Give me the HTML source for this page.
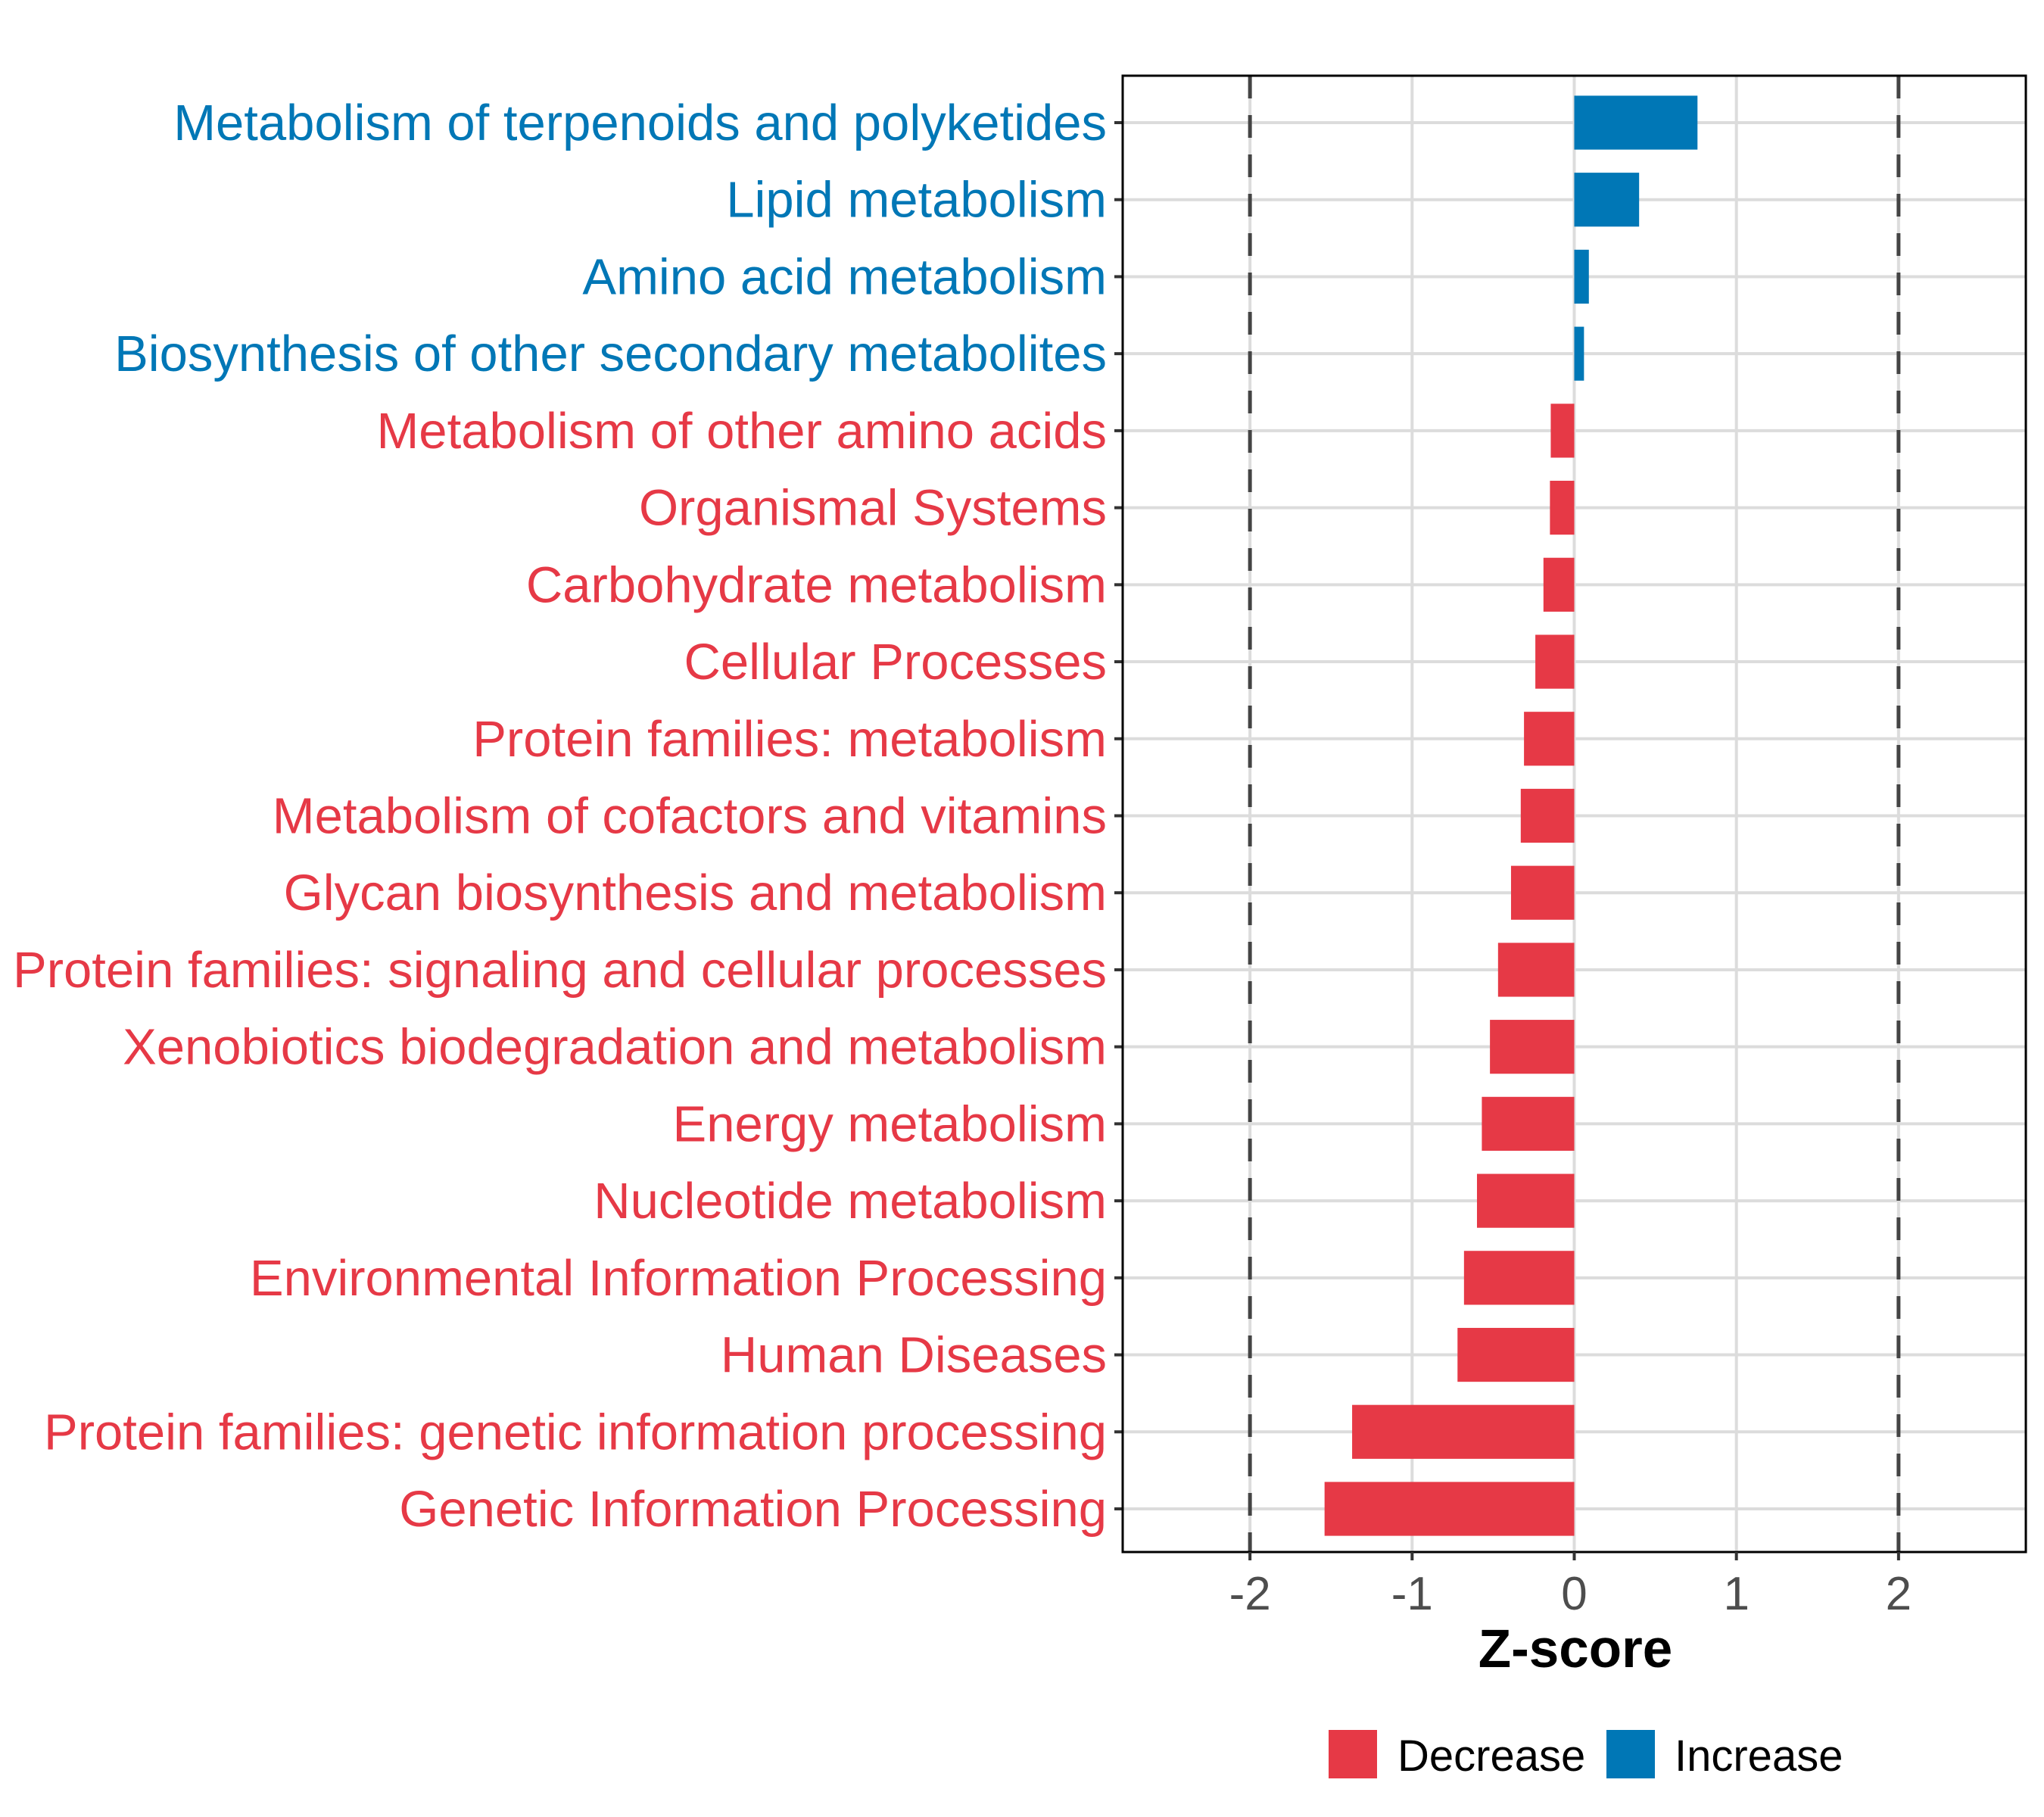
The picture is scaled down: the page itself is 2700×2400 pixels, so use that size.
<!DOCTYPE html>
<html><head><meta charset="utf-8"><style>
html,body{margin:0;padding:0;background:#fff;}
svg{display:block;font-family:"Liberation Sans",Arial,sans-serif;}
</style></head><body>
<svg id="chart" width="2700" height="2400" viewBox="0 0 2700 2400">
<g id="grid"></g>
<g id="bars"></g>
<g id="labels"></g>
<g id="xaxis"></g>
<text x="2081" y="2202" text-anchor="middle" font-size="71" font-weight="bold" fill="#000">Z-score</text>
<g>
<g>
<rect x="1755" y="2285" width="64" height="64" fill="#E63946"></rect>
<text x="1846" y="2339" font-size="58" fill="#000">Decrease</text>
</g>
<g>
<rect x="2122" y="2285" width="64" height="64" fill="#0077B6"></rect>
<text x="2212" y="2339" font-size="58" fill="#000">Increase</text>
</g>
</g>
</svg>
<script>
const categories = ["Metabolism of terpenoids and polyketides","Lipid metabolism","Amino acid metabolism","Biosynthesis of other secondary metabolites","Metabolism of other amino acids","Organismal Systems","Carbohydrate metabolism","Cellular Processes","Protein families: metabolism","Metabolism of cofactors and vitamins","Glycan biosynthesis and metabolism","Protein families: signaling and cellular processes","Xenobiotics biodegradation and metabolism","Energy metabolism","Nucleotide metabolism","Environmental Information Processing","Human Diseases","Protein families: genetic information processing","Genetic Information Processing"];
const zscores = [0.76,0.40,0.09,0.06,-0.145,-0.15,-0.19,-0.24,-0.31,-0.33,-0.39,-0.47,-0.52,-0.57,-0.60,-0.68,-0.72,-1.37,-1.54];
const xTicks = [-2,-1,0,1,2];
const xTickLabels = ["-2","-1","0","1","2"];
const thresholds = [-2,2];

const NS="http://www.w3.org/2000/svg";
const L=1483,R=2676,T=100,B=2050;
const xmin=-2.785,xmax=2.785;
const x=v=>L+(v-xmin)/(xmax-xmin)*(R-L);
const rowTop=162,rowStep=(1993-162)/(categories.length-1);
const y=i=>rowTop+i*rowStep;
const barH=rowStep*0.7;
function mk(tag,attrs,parent){const e=document.createElementNS(NS,tag);for(const k in attrs)e.setAttribute(k,attrs[k]);parent.appendChild(e);return e;}
const grid=document.getElementById('grid'),bars=document.getElementById('bars'),labels=document.getElementById('labels'),xaxis=document.getElementById('xaxis');
mk('rect',{x:L,y:T,width:R-L,height:B-T,fill:'#fff'},grid);
xTicks.forEach(t=>{const g=mk('line',{x1:x(t),x2:x(t),y1:T,y2:B,stroke:'#dcdcdc','stroke-width':4},grid);

});
categories.forEach((c,i)=>{const g=mk('line',{x1:L,x2:R,y1:y(i),y2:y(i),stroke:'#dcdcdc','stroke-width':4},grid);

});
thresholds.forEach(t=>{const d=mk('line',{x1:x(t),x2:x(t),y1:T,y2:B,stroke:'#444','stroke-width':5,'stroke-dasharray':'30 22'},grid);

});
zscores.forEach((v,i)=>{const x0=Math.min(x(0),x(v)),w=Math.abs(x(v)-x(0));
const r=mk('rect',{x:x0,y:y(i)-barH/2,width:w,height:barH,fill:v>=0?'#0077B6':'#E63946'},bars);


const t=mk('text',{x:1462,y:y(i)+23,'text-anchor':'end','font-size':67,fill:v>=0?'#0077B6':'#E63946'},labels);
t.textContent=categories[i];


const tk=mk('line',{x1:L-11,x2:L,y1:y(i),y2:y(i),stroke:'#333','stroke-width':4},labels);

});
const fr=mk('rect',{x:L,y:T,width:R-L,height:B-T,fill:'none',stroke:'#000','stroke-width':3},xaxis);


xTicks.forEach((t,i)=>{const tk=mk('line',{x1:x(t),x2:x(t),y1:B,y2:B+11,stroke:'#333','stroke-width':4},xaxis);


const lb=mk('text',{x:x(t),y:B+76,'text-anchor':'middle','font-size':62,fill:'#4d4d4d'},xaxis);
lb.textContent=xTickLabels[i];

});
</script>
</body></html>
